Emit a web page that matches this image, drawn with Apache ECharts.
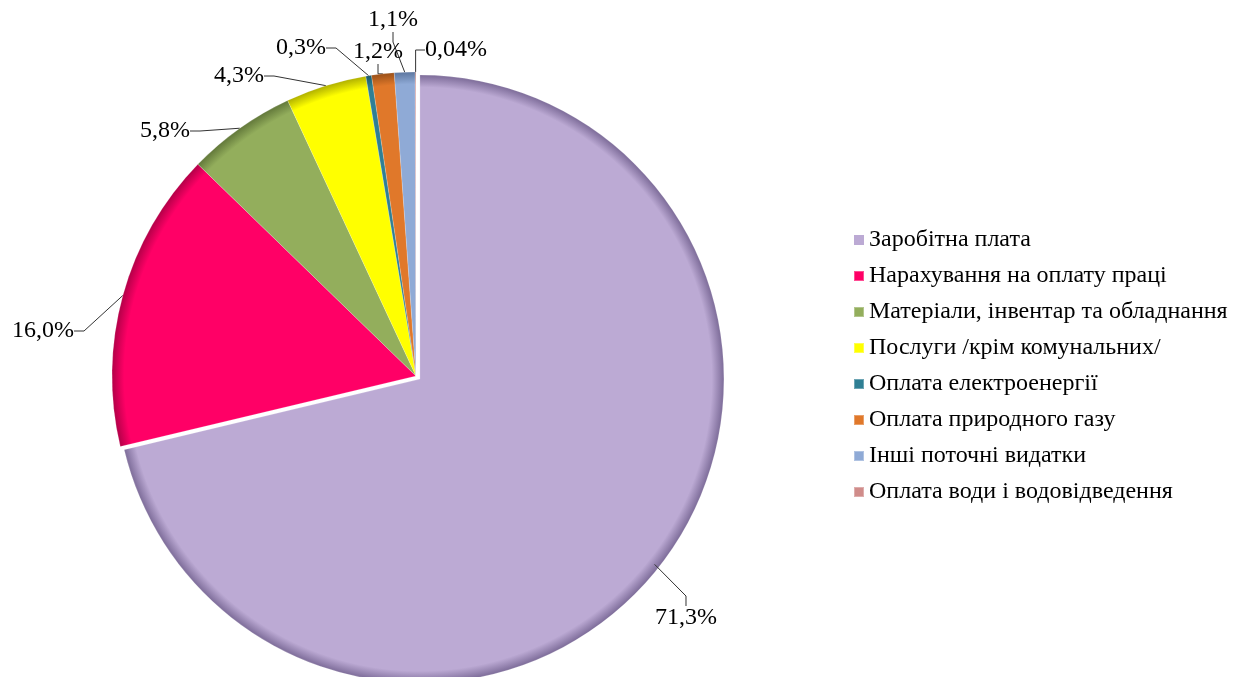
<!DOCTYPE html>
<html>
<head>
<meta charset="utf-8">
<script src="https://cdn.jsdelivr.net/npm/echarts@6/dist/echarts.min.js"></script>
<style>
  html, body { margin: 0; padding: 0; background: #fff; }
  #chart { width: 1252px; height: 677px; }
</style>
</head>
<body>
<div id="chart"></div>
<script>
// Structure of current expenditures, % of total
const categories = [
  'Заробітна плата',
  'Нарахування на оплату праці',
  'Матеріали, інвентар та обладнання',
  'Послуги /крім комунальних/',
  'Оплата електроенергії',
  'Оплата природного газу',
  'Інші поточні видатки',
  'Оплата води і водовідведення'
];
const shares = [71.3, 16.0, 5.8, 4.3, 0.3, 1.2, 1.1, 0.04];
const shareLabels = ['71,3%', '16,0%', '5,8%', '4,3%', '0,3%', '1,2%', '1,1%', '0,04%'];

const palette = ['#BCAAD4', '#FF0066', '#93AE5C', '#FFFF00', '#2F7F94', '#E0782A', '#8FAAD6', '#D08C8A'];
const rimShade = ['#7D6C99', '#B30048', '#62783A', '#B0B000', '#1E5868', '#9A5018', '#5D77A0', '#925E5C'];

const cx = 416, cy = 376, R = 304;
// the first slice is pulled slightly outward along its bisector
const pull = 5;

// label anchor points placed around the top and left of the pie
const labelSpots = [
  { x: 655, y: 618, align: 'left' },
  { x: 74, y: 331, align: 'right' },
  { x: 190, y: 131, align: 'right' },
  { x: 264, y: 76, align: 'right' },
  { x: 326, y: 48, align: 'right' },
  { x: 403, y: 52, align: 'right' },
  { x: 418, y: 20, align: 'right' },
  { x: 425, y: 50, align: 'left' }
];

function sliceFill(i, x, y) {
  return {
    type: 'radial', x: x, y: y, r: R, global: true,
    colorStops: [
      { offset: 0, color: palette[i] },
      { offset: 0.96, color: palette[i] },
      { offset: 1, color: rimShade[i] }
    ]
  };
}

const total = shares.reduce((a, b) => a + b, 0);
const midAngle = (shares[0] / total) * Math.PI; // clockwise from 12 o'clock
const pcx = cx + pull * Math.sin(midAngle);
const pcy = cy - pull * Math.cos(midAngle);

const chart = echarts.init(document.getElementById('chart'), null, { renderer: 'canvas' });

const commonPie = {
  type: 'pie',
  radius: [0, R],
  startAngle: 90,
  clockwise: true,
  avoidLabelOverlap: false,
  emphasis: { disabled: true },
  itemStyle: { borderColor: 'rgba(255,255,255,0.3)', borderWidth: 0.6 }
};

chart.setOption({
  backgroundColor: '#ffffff',
  animation: false,
  legend: {
    orient: 'vertical',
    left: 848,
    top: 223,
    itemWidth: 10,
    itemHeight: 10,
    itemGap: 12,
    icon: 'rect',
    textStyle: { fontFamily: 'Liberation Serif', fontSize: 24, color: '#000', lineHeight: 24 },
    data: categories.map((name, i) => ({ name, itemStyle: { color: palette[i] } }))
  },
  series: [
    // main pie: all slices except the pulled-out one, plus every label
    Object.assign({}, commonPie, {
      center: [cx, cy],
      z: 2,
      label: {
        show: true,
        position: 'outside',
        fontFamily: 'Liberation Serif',
        fontSize: 24,
        color: '#000',
        formatter: p => shareLabels[p.dataIndex]
      },
      labelLine: {
        show: true,
        length: 10,
        length2: 10,
        lineStyle: { color: '#333', width: 1 }
      },
      labelLayout: p => Object.assign({ verticalAlign: 'middle' }, labelSpots[p.dataIndex]),
      data: categories.map((name, i) => ({
        name,
        value: shares[i],
        itemStyle: i === 0
          ? { color: 'rgba(0,0,0,0)', borderWidth: 0 }
          : { color: sliceFill(i, cx, cy) }
      }))
    }),
    // the pulled-out slice
    Object.assign({}, commonPie, {
      center: [pcx, pcy],
      z: 1,
      silent: true,
      label: { show: false },
      labelLine: { show: false },
      data: categories.map((name, i) => ({
        name,
        value: shares[i],
        itemStyle: i === 0
          ? { color: sliceFill(0, pcx, pcy) }
          : { color: 'rgba(0,0,0,0)', borderWidth: 0 }
      }))
    })
  ]
});
</script>
</body>
</html>
